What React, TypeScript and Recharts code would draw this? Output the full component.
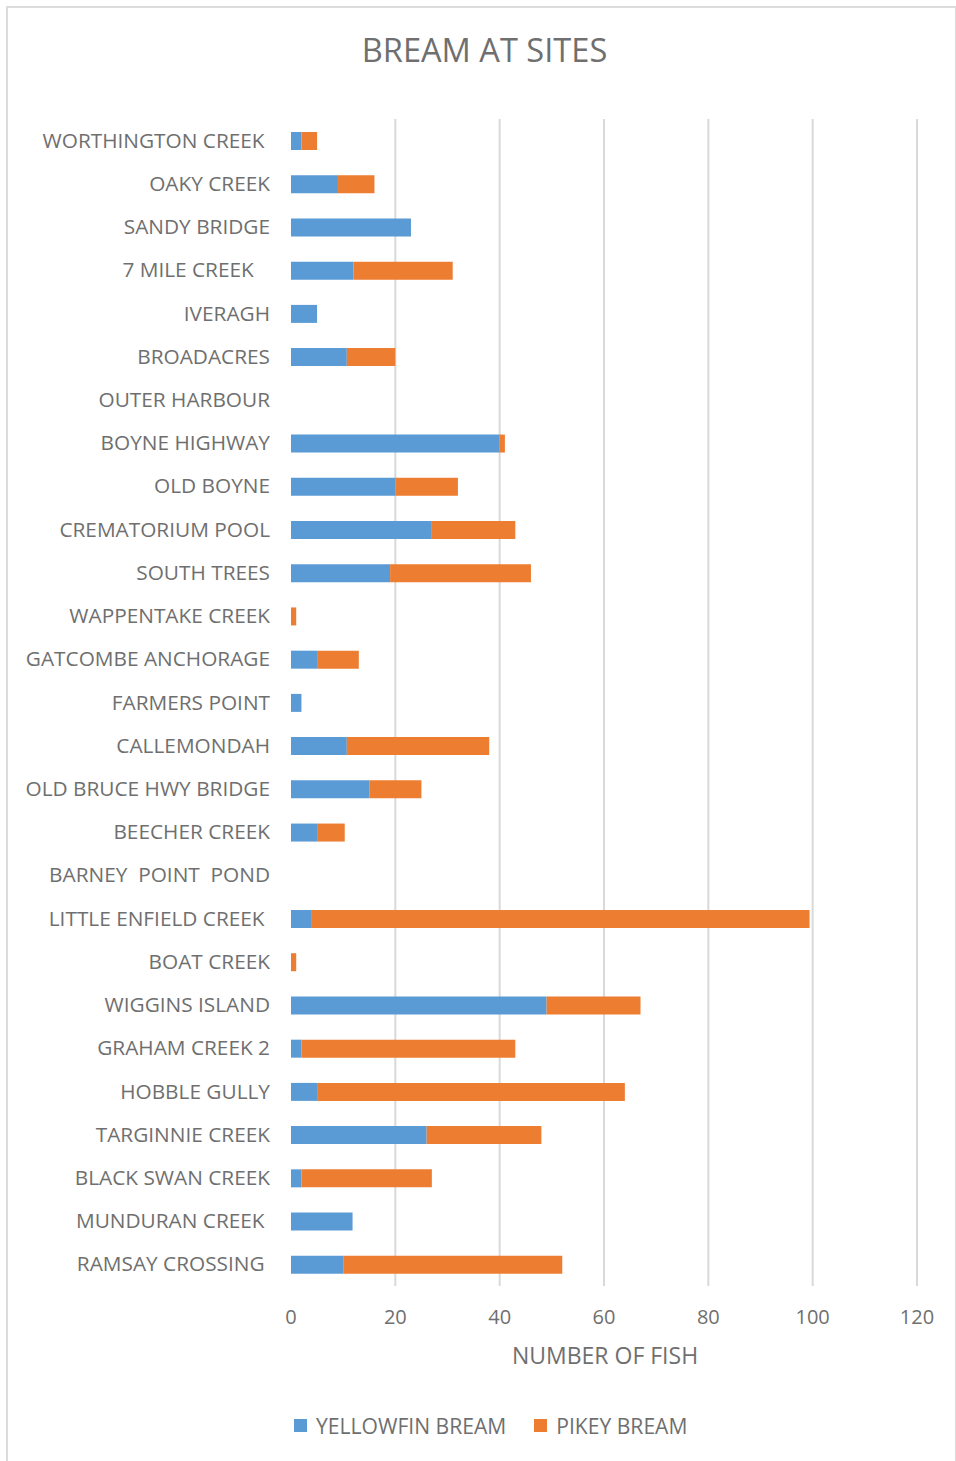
import { BarChart, Bar, XAxis, YAxis, CartesianGrid, Legend } from "recharts";

const SITES = [
  "WORTHINGTON CREEK ",
  "OAKY CREEK",
  "SANDY BRIDGE",
  "7 MILE CREEK   ",
  "IVERAGH",
  "BROADACRES",
  "OUTER HARBOUR",
  "BOYNE HIGHWAY",
  "OLD BOYNE",
  "CREMATORIUM POOL",
  "SOUTH TREES",
  "WAPPENTAKE CREEK",
  "GATCOMBE ANCHORAGE",
  "FARMERS POINT",
  "CALLEMONDAH",
  "OLD BRUCE HWY BRIDGE",
  "BEECHER CREEK",
  "BARNEY  POINT  POND",
  "LITTLE ENFIELD CREEK ",
  "BOAT CREEK",
  "WIGGINS ISLAND",
  "GRAHAM CREEK 2",
  "HOBBLE GULLY",
  "TARGINNIE CREEK",
  "BLACK SWAN CREEK",
  "MUNDURAN CREEK ",
  "RAMSAY CROSSING ",
];

const YELLOWFIN = [
  2, 9, 23, 12, 5, 10.7, 0, 40, 20, 27, 19, 0, 5, 2, 10.7, 15, 5, 0, 4, 0, 49, 2, 5, 26, 2, 11.8, 10,
];

const PIKEY = [
  3, 7, 0, 19, 0, 9.3, 0, 1, 12, 16, 27, 1, 8, 0, 27.3, 10, 5.3, 0, 95.4, 1, 18, 41, 59, 22, 25, 0, 42,
];

const X_TICKS = [0, 20, 40, 60, 80, 100, 120];
const X_MAX = 120;

const SERIES = [
  { key: "yellowfin", name: "YELLOWFIN BREAM", color: "#5B9BD5" },
  { key: "pikey", name: "PIKEY BREAM", color: "#ED7D31" },
];

const rows = SITES.map((site, i) => ({
  site,
  yellowfin: YELLOWFIN[i],
  pikey: PIKEY[i],
}));

const TEXT = "#6f6f6f";

// category labels keep their trailing / doubled spaces like the source
const SiteTick = (props: any) => {
  const { x, y, payload } = props;
  return (
    <text
      x={x}
      y={y}
      dy={7}
      textAnchor="end"
      fill={TEXT}
      fontSize={20.8}
      style={{ whiteSpace: "pre" }}
    >
      {payload.value}
    </text>
  );
};

const LegendBox = () => (
  <div style={{ display: "flex", alignItems: "center", fontSize: 21.1, color: TEXT }}>
    {SERIES.map((s) => (
      <div key={s.key} style={{ display: "flex", alignItems: "center", marginRight: 28 }}>
        <span
          style={{
            display: "inline-block",
            width: 13,
            height: 13,
            background: s.color,
            marginRight: 9,
          }}
        />
        <span>{s.name}</span>
      </div>
    ))}
  </div>
);

// vertical gridlines, skipping the one at zero like the source
const gridX = ({ offset }: any) =>
  X_TICKS.filter((t) => t > 0).map((t) => offset.left + (t / X_MAX) * offset.width);

export default function App() {
  return (
    <div
      style={{
        position: "absolute",
        top: 0,
        left: 0,
        width: 956,
        height: 1461,
        background: "#fff",
        fontFamily: "'Open Sans', sans-serif",
        overflow: "hidden",
      }}
    >
      {/* chart frame */}
      <div
        style={{
          position: "absolute",
          left: 6,
          top: 6,
          width: 947,
          height: 1470,
          border: "2px solid #dcdcdc",
        }}
      />
      <div
        style={{
          position: "absolute",
          left: 7,
          top: 28,
          width: 955,
          textAlign: "center",
          fontSize: 32.6,
          color: TEXT,
          lineHeight: "44px",
        }}
      >
        BREAM AT SITES
      </div>

      <div style={{ position: "absolute", left: 0, top: 0 }}>
        <BarChart
          width={956}
          height={1461}
          data={rows}
          layout="vertical"
          margin={{ top: 119, right: 39, bottom: 145, left: 0 }}
        >
          <CartesianGrid
            horizontal={false}
            stroke="#d9d9d9"
            strokeWidth={2}
            verticalCoordinatesGenerator={gridX}
          />
          <XAxis
            type="number"
            domain={[0, X_MAX]}
            ticks={X_TICKS}
            axisLine={false}
            tickLine={false}
            tickSize={0}
            tickMargin={24}
            height={30}
            tick={{ fill: TEXT, fontSize: 20 }}
          />
          <YAxis
            type="category"
            dataKey="site"
            width={291}
            axisLine={false}
            tickLine={false}
            tickSize={0}
            tickMargin={21}
            interval={0}
            tick={<SiteTick />}
          />
          <Legend
            layout="horizontal"
            verticalAlign="middle"
            align="center"
            wrapperStyle={{ top: 1411, left: 294, width: "auto" }}
            content={() => <LegendBox />}
          />
          {SERIES.map((s) => (
            <Bar
              key={s.key}
              dataKey={s.key}
              name={s.name}
              stackId="a"
              fill={s.color}
              barSize={18}
              isAnimationActive={false}
            />
          ))}
        </BarChart>
      </div>

      <div
        style={{
          position: "absolute",
          left: 291,
          top: 1340,
          width: 628,
          textAlign: "center",
          fontSize: 23,
          color: TEXT,
          lineHeight: "30px",
        }}
      >
        NUMBER OF FISH
      </div>
    </div>
  );
}
